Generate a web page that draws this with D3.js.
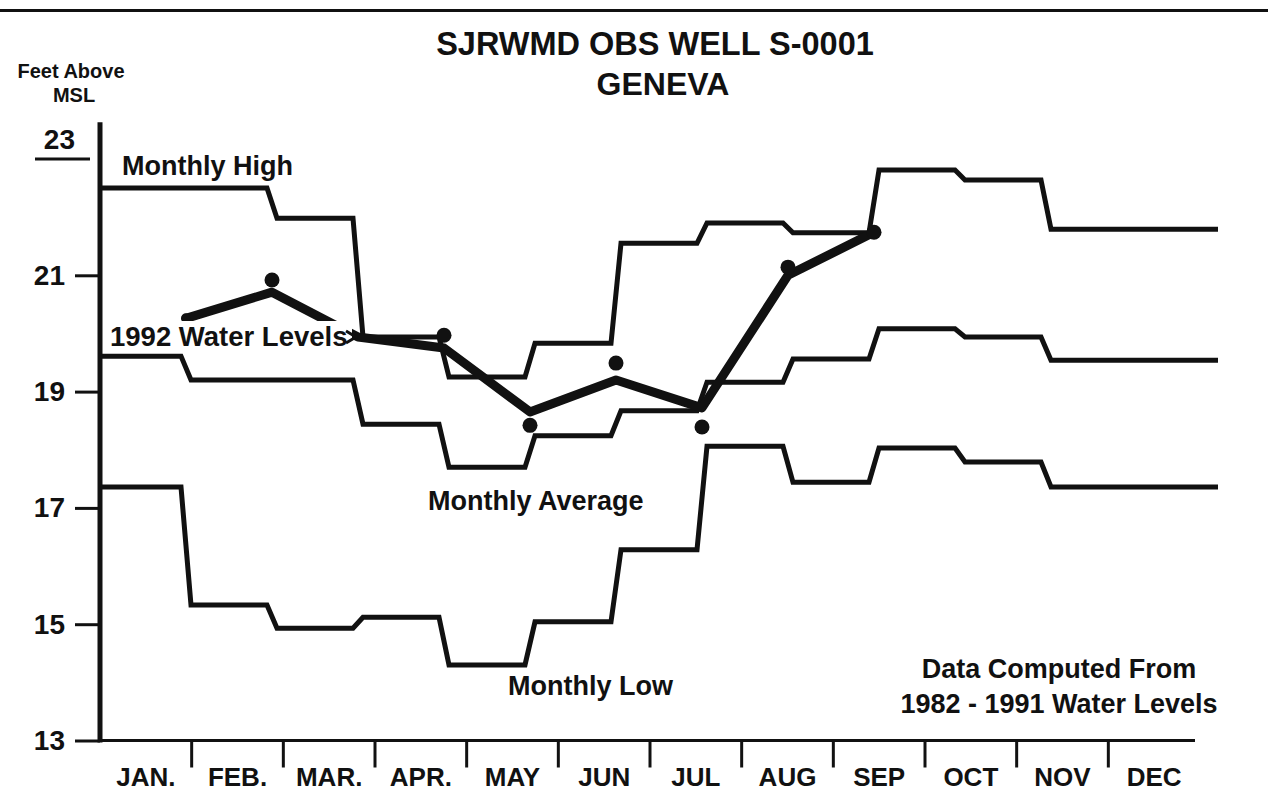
<!DOCTYPE html>
<html><head><meta charset="utf-8">
<script src="https://cdn.jsdelivr.net/npm/d3@7"></script>
<style>
html,body{margin:0;padding:0;background:#fff;}
svg{display:block;font-family:"Liberation Sans",Arial,Helvetica,sans-serif;font-weight:bold;}
</style></head><body>
<svg id="chart" width="1268" height="796"></svg>
<script>
// ---------- data ----------
const months = ["JAN.","FEB.","MAR.","APR.","MAY","JUN","JUL","AUG","SEP","OCT","NOV","DEC"];
const yTickValues = [13, 15, 17, 19, 21];
const yTopTick = 23;
// step outlines as drawn on the original (13 equal steps across the plot)
const monthlyHigh    = [22.50, 22.50, 21.98, 19.94, 19.25, 19.83, 21.55, 21.90, 21.73, 22.81, 22.64, 21.79, 21.79];
const monthlyAverage = [19.61, 19.20, 19.20, 18.44, 17.70, 18.24, 18.67, 19.16, 19.56, 20.08, 19.94, 19.54, 19.54];
const monthlyLow     = [17.36, 15.33, 14.93, 15.12, 14.30, 15.04, 16.28, 18.06, 17.44, 18.03, 17.79, 17.36, 17.36];
// 1992 water levels, Jan..Sep (line vertices and plotted dots)
const level1992  = [20.26, 20.71, 19.94, 19.75, 18.65, 19.20, 18.72, 21.00, 21.74];
const marker1992 = [20.26, 20.92, null, 19.97, 18.42, 19.49, 18.39, 21.14, 21.74];

// ---------- setup ----------
const svg = d3.select("#chart");
const ink = "#111";
const y = d3.scaleLinear().domain([13, 23]).range([740.5, 159]);
const xStep = d3.scaleLinear().domain([0, 13]).range([100, 1218]);
const xMonth = d3.scaleBand().domain(months).range([100, 1200]);
const axisX = xStep(0);

// top border rule
svg.append("line").attr("x1", 0).attr("x2", 1268).attr("y1", 10.5).attr("y2", 10.5)
  .attr("stroke", ink).attr("stroke-width", 3);

// ---------- titles ----------
svg.append("text").attr("x", 655).attr("y", 55).attr("text-anchor", "middle")
  .attr("font-size", 32.5).attr("fill", ink).text("SJRWMD OBS WELL S-0001");
svg.append("text").attr("x", 663).attr("y", 95).attr("text-anchor", "middle")
  .attr("font-size", 32).attr("fill", ink).text("GENEVA");
svg.append("text").attr("x", 71).attr("y", 78).attr("text-anchor", "middle")
  .attr("font-size", 20).attr("fill", ink).text("Feet Above");
svg.append("text").attr("x", 74).attr("y", 102).attr("text-anchor", "middle")
  .attr("font-size", 20).attr("fill", ink).text("MSL");

// ---------- y axis ----------
const yAxis = d3.axisLeft(y).tickValues(yTickValues).tickSize(25).tickPadding(10)
  .tickFormat(d3.format("d"));
const gy = svg.append("g").attr("transform", `translate(${axisX},0)`).call(yAxis);
gy.select(".domain").remove();
gy.selectAll(".tick line").attr("stroke", ink).attr("stroke-width", 3);
gy.selectAll(".tick text").attr("font-size", 28).attr("font-family", "Liberation Sans, Arial, sans-serif")
  .attr("font-weight", "bold").attr("fill", ink);
svg.append("line").attr("x1", axisX).attr("x2", axisX).attr("y1", y(13) + 2).attr("y2", y(23.63))
  .attr("stroke", ink).attr("stroke-width", 5);
// top tick "23" drawn underlined
svg.append("line").attr("x1", 35).attr("x2", 90).attr("y1", y(yTopTick)).attr("y2", y(yTopTick))
  .attr("stroke", ink).attr("stroke-width", 3);
svg.append("text").attr("x", 75).attr("y", y(yTopTick) - 10).attr("text-anchor", "end")
  .attr("font-size", 28).attr("fill", ink).text(yTopTick);

// ---------- x axis ----------
svg.append("line").attr("x1", axisX).attr("x2", 1195).attr("y1", y(13)).attr("y2", y(13))
  .attr("stroke", ink).attr("stroke-width", 3);
svg.append("g").selectAll("line").data(months.slice(1)).join("line")
  .attr("x1", d => xMonth(d)).attr("x2", d => xMonth(d))
  .attr("y1", y(13)).attr("y2", y(13) + 27)
  .attr("stroke", ink).attr("stroke-width", 3);
const xAxis = d3.axisBottom(xMonth).tickSize(0).tickPadding(27);
const gx = svg.append("g").attr("transform", `translate(0,${y(13)})`).call(xAxis);
gx.select(".domain").remove();
gx.selectAll(".tick text").attr("font-size", 26).attr("font-family", "Liberation Sans, Arial, sans-serif")
  .attr("font-weight", "bold").attr("fill", ink);

// ---------- step lines ----------
function stepPoints(vals) {
  const g = 5, pts = [];
  vals.forEach((v, i) => {
    const x0 = i === 0 ? xStep(0) : xStep(i) + g;
    const x1 = i === vals.length - 1 ? xStep(i + 1) : xStep(i + 1) - g;
    pts.push([x0, y(v)], [x1, y(v)]);
  });
  return pts;
}
const line = d3.line();
[monthlyHigh, monthlyAverage, monthlyLow].forEach(s => {
  svg.append("path").attr("d", line(stepPoints(s)))
    .attr("fill", "none").attr("stroke", ink).attr("stroke-width", 5)
    .attr("stroke-linejoin", "miter");
});

// ---------- 1992 line ----------
const line1992 = d3.line().x((d, i) => xStep(i + 1)).y(d => y(d));
svg.append("path").attr("d", line1992(level1992))
  .attr("fill", "none").attr("stroke", ink).attr("stroke-width", 9)
  .attr("stroke-linejoin", "round").attr("stroke-linecap", "round");
svg.append("g").selectAll("circle")
  .data(marker1992.map((v, i) => ({v, i})).filter(d => d.v !== null))
  .join("circle")
  .attr("cx", d => xStep(d.i + 1)).attr("cy", d => y(d.v))
  .attr("r", d => d.i === 0 ? 5 : 7.5).attr("fill", ink);

// ---------- annotations ----------
svg.append("rect").attr("x", 106).attr("y", 321).attr("width", 246).attr("height", 30).attr("fill", "#fff");
svg.append("text").attr("x", 110).attr("y", 346).attr("font-size", 27.5).attr("fill", ink).text("1992 Water Levels");
const tipX = xStep(3), tipY = y(level1992[2]);
svg.append("path").attr("d", `M${tipX - 12},${tipY - 6} L${tipX - 2},${tipY} L${tipX - 12},${tipY + 6}`)
  .attr("fill", "none").attr("stroke", ink).attr("stroke-width", 3);

const ann = [
  {t: "Monthly High", x: 122, y: 175, a: "start"},
  {t: "Monthly Average", x: 428, y: 510, a: "start"},
  {t: "Monthly Low", x: 508, y: 695, a: "start"},
  {t: "Data Computed From", x: 1059, y: 678, a: "middle"},
  {t: "1982 - 1991 Water Levels", x: 1059, y: 713, a: "middle"}
];
svg.append("g").selectAll("text").data(ann).join("text")
  .attr("x", d => d.x).attr("y", d => d.y).attr("text-anchor", d => d.a)
  .attr("font-size", 27).attr("fill", ink).text(d => d.t);
</script>
</body></html>
